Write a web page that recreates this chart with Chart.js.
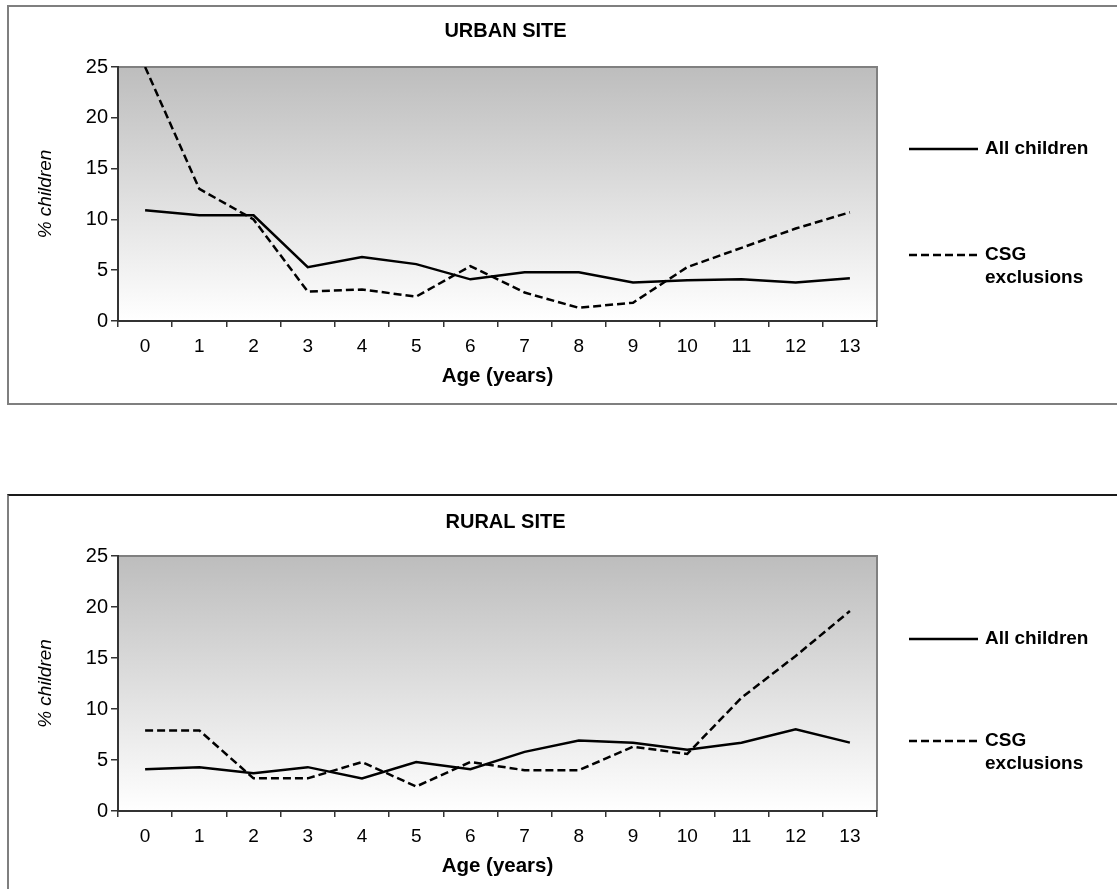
<!DOCTYPE html>
<html>
<head>
<meta charset="utf-8">
<script src="https://cdn.jsdelivr.net/npm/chart.js@4/dist/chart.umd.min.js"></script>
<style>
  html, body { margin: 0; padding: 0; background: #ffffff; overflow: hidden; }
  body { width: 1117px; height: 889px; position: relative; }
  .box1 { position: absolute; left: 7px; top: 5px; width: 1130px; height: 396px;
          border-top: 2px solid #7f7f7f; border-left: 2px solid #7f7f7f; border-bottom: 2px solid #7f7f7f; }
  .box2 { position: absolute; left: 7px; top: 494px; width: 1130px; height: 420px;
          border-top: 2px solid #1a1a1a; border-left: 2px solid #7f7f7f; }
  canvas { position: absolute; left: 0; }
  #c1 { top: 0; }
  #c2 { top: 489px; }
</style>
</head>
<body>
<div class="box1"></div>
<div class="box2"></div>
<canvas id="c1" width="1117" height="400" style="width:1117px;height:400px"></canvas>
<canvas id="c2" width="1117" height="400" style="width:1117px;height:400px"></canvas>
<script>
const ages = ['0','1','2','3','4','5','6','7','8','9','10','11','12','13'];
const seriesNames = ['All children', 'CSG exclusions'];
const yTicks = [0, 5, 10, 15, 20, 25];

const urbanAll = [10.9, 10.4, 10.4, 5.3, 6.3, 5.6, 4.1, 4.8, 4.8, 3.8, 4.0, 4.1, 3.8, 4.2];
const urbanCSG = [25.0, 13.0, 10.0, 2.9, 3.1, 2.4, 5.4, 2.8, 1.3, 1.8, 5.3, 7.2, 9.1, 10.7];

const ruralAll = [4.1, 4.3, 3.7, 4.3, 3.2, 4.8, 4.1, 5.8, 6.9, 6.7, 6.0, 6.7, 8.0, 6.7];
const ruralCSG = [7.9, 7.9, 3.2, 3.2, 4.8, 2.4, 4.8, 4.0, 4.0, 6.3, 5.6, 11.1, 15.2, 19.6];

const FONT = "'Liberation Sans', Arial, sans-serif";

const decorPlugin = {
  id: 'decor',
  beforeDraw(chart, args, opts) {
    const {ctx, chartArea: a} = chart;
    ctx.save();
    const g = ctx.createLinearGradient(0, a.top, 0, a.bottom);
    g.addColorStop(0, '#bdbdbd');
    g.addColorStop(1, '#ffffff');
    ctx.fillStyle = g;
    ctx.fillRect(a.left, a.top, a.right - a.left, a.bottom - a.top);
    ctx.strokeStyle = '#808080';
    ctx.lineWidth = 2;
    ctx.beginPath();
    ctx.moveTo(a.left, a.top);
    ctx.lineTo(a.right, a.top);
    ctx.lineTo(a.right, a.bottom);
    ctx.stroke();
    ctx.restore();
  },
  afterDraw(chart, args, opts) {
    const {ctx, chartArea: a} = chart;
    ctx.save();
    // title
    ctx.fillStyle = '#000';
    ctx.font = 'bold 20px ' + FONT;
    ctx.textAlign = 'center';
    ctx.textBaseline = 'middle';
    ctx.fillText(opts.title, (a.left + a.right) / 2 + 8, opts.titleY);
    // legend
    const lx0 = a.right + 32, lx1 = a.right + 101, tx = a.right + 108;
    ctx.strokeStyle = '#000';
    ctx.lineWidth = 2.5;
    const ds = chart.data.datasets;
    const y1 = a.top + opts.leg1, y2 = a.top + opts.leg2;
    ctx.setLineDash(ds[0].borderDash || []);
    ctx.beginPath(); ctx.moveTo(lx0, y1); ctx.lineTo(lx1, y1); ctx.stroke();
    ctx.setLineDash(ds[1].borderDash || []);
    ctx.beginPath(); ctx.moveTo(lx0, y2); ctx.lineTo(lx1, y2); ctx.stroke();
    ctx.setLineDash([]);
    ctx.font = 'bold 19px ' + FONT;
    ctx.textAlign = 'left';
    ctx.fillText(ds[0].label, tx, y1);
    const words = ds[1].label.split(' ');
    ctx.fillText(words[0], tx, y2);
    ctx.fillText(words.slice(1).join(' '), tx, y2 + 23);
    ctx.restore();
  }
};

function makeChart(id, allVals, csgVals, title, titleY, leg1, leg2, padBottom) {
  return new Chart(document.getElementById(id), {
    type: 'line',
    data: {
      labels: ages,
      datasets: [
        { label: seriesNames[0], data: allVals, borderColor: '#000', borderWidth: 2.5,
          pointRadius: 0, tension: 0, fill: false },
        { label: seriesNames[1], data: csgVals, borderColor: '#000', borderWidth: 2.5,
          borderDash: [8, 4], pointRadius: 0, tension: 0, fill: false }
      ]
    },
    options: {
      responsive: false,
      animation: false,
      devicePixelRatio: 1,
      layout: { padding: { left: 0, top: 67, right: 240, bottom: padBottom } },
      plugins: {
        legend: { display: false },
        tooltip: { enabled: false },
        title: { display: false },
        decor: { title: title, titleY: titleY, leg1: leg1, leg2: leg2 }
      },
      scales: {
        x: {
          type: 'category',
          offset: true,
          grid: { offset: true, drawOnChartArea: false, drawTicks: true, tickLength: 6,
                  color: '#333', lineWidth: 1.5 },
          border: { display: true, color: '#333', width: 2 },
          ticks: { color: '#000', font: { family: FONT, size: 19 }, padding: 8,
                   maxRotation: 0, autoSkip: false },
          title: { display: true, text: 'Age (years)', color: '#000',
                   font: { family: FONT, size: 20.5, weight: 'bold' }, padding: { top: 0, bottom: 2 } },
          afterFit(scale) { scale.height = 70; }
        },
        y: {
          min: 0, max: 25,
          afterBuildTicks(scale) { scale.ticks = yTicks.map(v => ({ value: v })); },
          grid: { drawOnChartArea: false, drawTicks: true, tickLength: 7, color: '#333', lineWidth: 1.5 },
          border: { display: true, color: '#333', width: 2 },
          ticks: { color: '#000', font: { family: FONT, size: 20 }, padding: 3 },
          title: { display: true, text: '% children', color: '#000',
                   font: { family: FONT, size: 19, style: 'italic' }, padding: { top: 34, bottom: 0 } },
          afterFit(scale) { scale.width = 118; }
        }
      }
    },
    plugins: [decorPlugin]
  });
}

makeChart('c1', urbanAll, urbanCSG, 'URBAN SITE', 31, 82, 188, 9);
makeChart('c2', ruralAll, ruralCSG, 'RURAL SITE', 33, 83, 185, 8);
</script>
</body>
</html>
